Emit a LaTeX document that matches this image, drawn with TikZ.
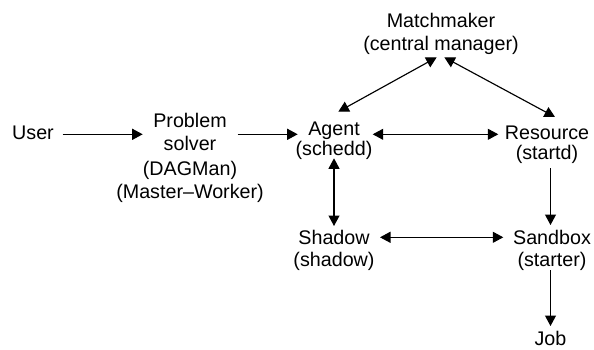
\documentclass[tikz,border=0pt]{standalone}
\usepackage{fontspec}
\setmainfont{Liberation Sans}
\usetikzlibrary{arrows.meta,calc}
\begin{document}
\begin{tikzpicture}[x=1pt,y=-1pt,
  lab/.style={anchor=north,inner sep=0pt,align=center,font=\fontsize{19.7}{23}\selectfont},
  tip/.tip={Triangle[length=10.5pt,width=11pt]},
  conn/.style={line width=1.15pt,-tip},
  biconn/.style={line width=1.15pt,tip-tip}]
\useasboundingbox (0,0) rectangle (594,349);
% nodes
\node[lab] (user) at (33,126) {User};
\node[lab] (solver) at (190,113) {Problem\\solver\\[2pt](DAGMan)\\(Master–Worker)};
\node[lab] (match) at (441,13) {Matchmaker\\(central manager)};
\node[lab,font=\fontsize{19.7}{20}\selectfont] (agent) at (334,121.5) {Agent\\(schedd)};
\node[lab,font=\fontsize{19.7}{20}\selectfont] (resource) at (547,126) {Resource\\(startd)};
\node[lab,font=\fontsize{19.7}{22}\selectfont] (shadow) at (334,230) {Shadow\\(shadow)};
\node[lab,font=\fontsize{19.7}{22}\selectfont] (sandbox) at (552,230) {Sandbox\\(starter)};
\node[lab] (job) at (550.5,331.5) {Job};
% connectors
\draw[conn] ($(user.north)+(29.7,8.3)$) -- ($(solver.north)+(-47.3,21.3)$);
\draw[conn] ($(solver.north)+(47.7,21.3)$) -- ($(agent.north)+(-36.3,12.8)$);
\draw[biconn] ($(agent.north)+(38.7,12.8)$) -- ($(resource.north)+(-48.7,8.3)$);
\draw[biconn] ($(agent.north)+(4.3,-9.8)$) -- ($(match.north)+(-4.3,44.3)$);
\draw[biconn] ($(resource.north)+(8,-9)$) -- ($(match.north)+(3.3,44.3)$);
\draw[biconn] ($(agent.north)+(0,36.8)$) -- ($(shadow.north)+(0,-4)$);
\draw[conn] ($(resource.north)+(3.5,42)$) -- ($(sandbox.north)+(-1.5,-5)$);
\draw[biconn] ($(shadow.north)+(46,7.3)$) -- ($(sandbox.north)+(-48.7,7.3)$);
\draw[conn] ($(sandbox.north)+(-1.5,40)$) -- ($(job.north)+(0,-5.5)$);
\end{tikzpicture}
\end{document}
